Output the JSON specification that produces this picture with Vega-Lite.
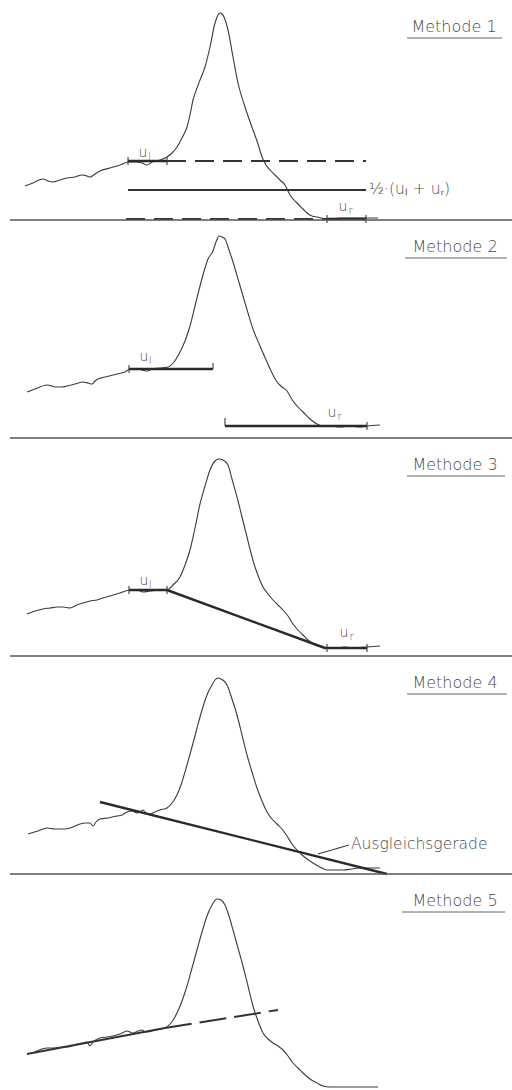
{
  "$schema": "https://vega.github.io/schema/vega-lite/v6.json",
  "padding": 0,
  "spacing": 0,
  "bounds": "flush",
  "background": "white",
  "data": {"values": [
    {"panel":1,"kind":"curve","x":25,"y":34},{"panel":1,"kind":"curve","x":33,"y":37},{"panel":1,"kind":"curve","x":43,"y":41},{"panel":1,"kind":"curve","x":48,"y":39},{"panel":1,"kind":"curve","x":53,"y":38},{"panel":1,"kind":"curve","x":60,"y":40},{"panel":1,"kind":"curve","x":67,"y":42},{"panel":1,"kind":"curve","x":75,"y":43},{"panel":1,"kind":"curve","x":82,"y":45},{"panel":1,"kind":"curve","x":87,"y":44},{"panel":1,"kind":"curve","x":90,"y":43},{"panel":1,"kind":"curve","x":95,"y":46},{"panel":1,"kind":"curve","x":100,"y":49},{"panel":1,"kind":"curve","x":110,"y":52},{"panel":1,"kind":"curve","x":120,"y":55},{"panel":1,"kind":"curve","x":128,"y":58},{"panel":1,"kind":"curve","x":135,"y":58},{"panel":1,"kind":"curve","x":142,"y":57},{"panel":1,"kind":"curve","x":147,"y":55},{"panel":1,"kind":"curve","x":152,"y":58},{"panel":1,"kind":"curve","x":160,"y":60},{"panel":1,"kind":"curve","x":167,"y":63},{"panel":1,"kind":"curve","x":172,"y":67},{"panel":1,"kind":"curve","x":177,"y":73},{"panel":1,"kind":"curve","x":182,"y":82},{"panel":1,"kind":"curve","x":187,"y":93},{"panel":1,"kind":"curve","x":190,"y":105},{"panel":1,"kind":"curve","x":193,"y":120},{"panel":1,"kind":"curve","x":197,"y":132},{"panel":1,"kind":"curve","x":200,"y":140},{"panel":1,"kind":"curve","x":205,"y":153},{"panel":1,"kind":"curve","x":210,"y":173},{"panel":1,"kind":"curve","x":215,"y":197},{"panel":1,"kind":"curve","x":218,"y":205},{"panel":1,"kind":"curve","x":220,"y":207},{"panel":1,"kind":"curve","x":222,"y":206},{"panel":1,"kind":"curve","x":224,"y":203},{"panel":1,"kind":"curve","x":228,"y":190},{"panel":1,"kind":"curve","x":233,"y":163},{"panel":1,"kind":"curve","x":238,"y":137},{"panel":1,"kind":"curve","x":245,"y":113},{"panel":1,"kind":"curve","x":253,"y":90},{"panel":1,"kind":"curve","x":258,"y":76},{"panel":1,"kind":"curve","x":262,"y":63},{"panel":1,"kind":"curve","x":266,"y":55},{"panel":1,"kind":"curve","x":270,"y":50},{"panel":1,"kind":"curve","x":275,"y":45},{"panel":1,"kind":"curve","x":280,"y":40},{"panel":1,"kind":"curve","x":285,"y":35},{"panel":1,"kind":"curve","x":290,"y":25},{"panel":1,"kind":"curve","x":297,"y":17},{"panel":1,"kind":"curve","x":303,"y":11},{"panel":1,"kind":"curve","x":307,"y":7},{"panel":1,"kind":"curve","x":312,"y":4},{"panel":1,"kind":"curve","x":317,"y":3},{"panel":1,"kind":"curve","x":327,"y":1},{"panel":1,"kind":"curve","x":340,"y":2},{"panel":1,"kind":"curve","x":355,"y":2},{"panel":1,"kind":"curve","x":366,"y":2},{"panel":1,"kind":"curve","x":378,"y":2},

    {"panel":1,"kind":"thick","x":128,"y":59,"x2":167,"y2":59},
    {"panel":1,"kind":"thin","x":128,"y":55,"x2":128,"y2":63},
    {"panel":1,"kind":"thin","x":167,"y":55,"x2":167,"y2":63},
    {"panel":1,"kind":"dash","x":167,"y":59,"x2":366,"y2":59},
    {"panel":1,"kind":"mid","x":128,"y":30,"x2":366,"y2":30},
    {"panel":1,"kind":"dash","x":126,"y":1,"x2":327,"y2":1},
    {"panel":1,"kind":"thick","x":327,"y":1,"x2":366,"y2":1},
    {"panel":1,"kind":"thin","x":327,"y":-3,"x2":327,"y2":5},
    {"panel":1,"kind":"thin","x":366,"y":-3,"x2":366,"y2":5},
    {"panel":1,"kind":"sep","x":10,"y":0,"x2":512,"y2":0},
    {"panel":1,"kind":"under","x":407,"y":182,"x2":502,"y2":182},
    {"panel":1,"kind":"title","x":454,"y":188,"text":"Methode 1"},
    {"panel":1,"kind":"u","x":143,"y":63,"text":"u"},
    {"panel":1,"kind":"sub","x":148,"y":60,"text":"l"},
    {"panel":1,"kind":"u","x":343,"y":9,"text":"u"},
    {"panel":1,"kind":"sub","x":348.5,"y":6,"text":"r"},
    {"panel":1,"kind":"labL","x":369,"y":26,"text":"½·(uₗ + uᵣ)"},

    {"panel":2,"kind":"curve","x":27,"y":46},{"panel":2,"kind":"curve","x":35,"y":49},{"panel":2,"kind":"curve","x":47,"y":53},{"panel":2,"kind":"curve","x":52,"y":52},{"panel":2,"kind":"curve","x":55,"y":51},{"panel":2,"kind":"curve","x":62,"y":51},{"panel":2,"kind":"curve","x":67,"y":52},{"panel":2,"kind":"curve","x":75,"y":54},{"panel":2,"kind":"curve","x":83,"y":56},{"panel":2,"kind":"curve","x":88,"y":55},{"panel":2,"kind":"curve","x":92,"y":54},{"panel":2,"kind":"curve","x":95,"y":57},{"panel":2,"kind":"curve","x":98,"y":59},{"panel":2,"kind":"curve","x":105,"y":61},{"panel":2,"kind":"curve","x":117,"y":64},{"panel":2,"kind":"curve","x":125,"y":66},{"panel":2,"kind":"curve","x":130,"y":69},{"panel":2,"kind":"curve","x":137,"y":69},{"panel":2,"kind":"curve","x":142,"y":68},{"panel":2,"kind":"curve","x":147,"y":67},{"panel":2,"kind":"curve","x":152,"y":69},{"panel":2,"kind":"curve","x":160,"y":70},{"panel":2,"kind":"curve","x":168,"y":71},{"panel":2,"kind":"curve","x":174,"y":76},{"panel":2,"kind":"curve","x":180,"y":86},{"panel":2,"kind":"curve","x":185,"y":97},{"panel":2,"kind":"curve","x":190,"y":112},{"panel":2,"kind":"curve","x":195,"y":132},{"panel":2,"kind":"curve","x":200,"y":152},{"panel":2,"kind":"curve","x":205,"y":170},{"panel":2,"kind":"curve","x":208,"y":179},{"panel":2,"kind":"curve","x":213,"y":187},{"panel":2,"kind":"curve","x":216,"y":196},{"panel":2,"kind":"curve","x":219,"y":202},{"panel":2,"kind":"curve","x":222,"y":201},{"panel":2,"kind":"curve","x":225,"y":199},{"panel":2,"kind":"curve","x":229,"y":188},{"panel":2,"kind":"curve","x":233,"y":176},{"panel":2,"kind":"curve","x":238,"y":159},{"panel":2,"kind":"curve","x":243,"y":142},{"panel":2,"kind":"curve","x":248,"y":125},{"panel":2,"kind":"curve","x":253,"y":109},{"panel":2,"kind":"curve","x":260,"y":92},{"panel":2,"kind":"curve","x":267,"y":76},{"panel":2,"kind":"curve","x":272,"y":65},{"panel":2,"kind":"curve","x":277,"y":56},{"panel":2,"kind":"curve","x":282,"y":51},{"panel":2,"kind":"curve","x":287,"y":47},{"panel":2,"kind":"curve","x":290,"y":42},{"panel":2,"kind":"curve","x":293,"y":37},{"panel":2,"kind":"curve","x":298,"y":31},{"panel":2,"kind":"curve","x":303,"y":26},{"panel":2,"kind":"curve","x":310,"y":19},{"panel":2,"kind":"curve","x":317,"y":14},{"panel":2,"kind":"curve","x":323,"y":12},{"panel":2,"kind":"curve","x":330,"y":12},{"panel":2,"kind":"curve","x":340,"y":11},{"panel":2,"kind":"curve","x":350,"y":12},{"panel":2,"kind":"curve","x":360,"y":11},{"panel":2,"kind":"curve","x":367,"y":12},{"panel":2,"kind":"curve","x":380,"y":13},

    {"panel":2,"kind":"thick","x":129,"y":69,"x2":213,"y2":69},
    {"panel":2,"kind":"thin","x":129,"y":65,"x2":129,"y2":73},
    {"panel":2,"kind":"thin","x":213,"y":69,"x2":213,"y2":75},
    {"panel":2,"kind":"thick","x":225,"y":12,"x2":367,"y2":12},
    {"panel":2,"kind":"thin","x":225,"y":12,"x2":225,"y2":20},
    {"panel":2,"kind":"thin","x":367,"y":8,"x2":367,"y2":16},
    {"panel":2,"kind":"sep","x":10,"y":0,"x2":512,"y2":0},
    {"panel":2,"kind":"under","x":405,"y":180,"x2":507,"y2":180},
    {"panel":2,"kind":"title","x":455,"y":186,"text":"Methode 2"},
    {"panel":2,"kind":"u","x":144,"y":77,"text":"u"},
    {"panel":2,"kind":"sub","x":149,"y":74,"text":"l"},
    {"panel":2,"kind":"u","x":332,"y":21,"text":"u"},
    {"panel":2,"kind":"sub","x":337.5,"y":18,"text":"r"},

    {"panel":3,"kind":"curve","x":27,"y":42},{"panel":3,"kind":"curve","x":35,"y":45},{"panel":3,"kind":"curve","x":43,"y":47},{"panel":3,"kind":"curve","x":50,"y":48},{"panel":3,"kind":"curve","x":57,"y":49},{"panel":3,"kind":"curve","x":63,"y":49},{"panel":3,"kind":"curve","x":70,"y":48},{"panel":3,"kind":"curve","x":77,"y":51},{"panel":3,"kind":"curve","x":83,"y":53},{"panel":3,"kind":"curve","x":90,"y":55},{"panel":3,"kind":"curve","x":97,"y":56},{"panel":3,"kind":"curve","x":103,"y":58},{"panel":3,"kind":"curve","x":110,"y":60},{"panel":3,"kind":"curve","x":120,"y":63},{"panel":3,"kind":"curve","x":130,"y":66},{"panel":3,"kind":"curve","x":137,"y":66},{"panel":3,"kind":"curve","x":143,"y":64},{"panel":3,"kind":"curve","x":150,"y":65},{"panel":3,"kind":"curve","x":157,"y":66},{"panel":3,"kind":"curve","x":167,"y":66},{"panel":3,"kind":"curve","x":173,"y":71},{"panel":3,"kind":"curve","x":180,"y":79},{"panel":3,"kind":"curve","x":185,"y":91},{"panel":3,"kind":"curve","x":190,"y":106},{"panel":3,"kind":"curve","x":195,"y":128},{"panel":3,"kind":"curve","x":200,"y":152},{"panel":3,"kind":"curve","x":205,"y":170},{"panel":3,"kind":"curve","x":210,"y":186},{"panel":3,"kind":"curve","x":215,"y":195},{"panel":3,"kind":"curve","x":219,"y":197},{"panel":3,"kind":"curve","x":223,"y":196},{"panel":3,"kind":"curve","x":228,"y":191},{"panel":3,"kind":"curve","x":232,"y":177},{"panel":3,"kind":"curve","x":237,"y":159},{"panel":3,"kind":"curve","x":242,"y":139},{"panel":3,"kind":"curve","x":247,"y":119},{"panel":3,"kind":"curve","x":251,"y":103},{"panel":3,"kind":"curve","x":255,"y":89},{"panel":3,"kind":"curve","x":259,"y":78},{"panel":3,"kind":"curve","x":263,"y":69},{"panel":3,"kind":"curve","x":268,"y":62},{"panel":3,"kind":"curve","x":273,"y":56},{"panel":3,"kind":"curve","x":278,"y":51},{"panel":3,"kind":"curve","x":283,"y":46},{"panel":3,"kind":"curve","x":288,"y":40},{"panel":3,"kind":"curve","x":293,"y":32},{"panel":3,"kind":"curve","x":298,"y":26},{"panel":3,"kind":"curve","x":303,"y":21},{"panel":3,"kind":"curve","x":308,"y":16},{"panel":3,"kind":"curve","x":313,"y":12},{"panel":3,"kind":"curve","x":318,"y":10},{"panel":3,"kind":"curve","x":325,"y":8},{"panel":3,"kind":"curve","x":335,"y":8},{"panel":3,"kind":"curve","x":345,"y":9},{"panel":3,"kind":"curve","x":355,"y":8},{"panel":3,"kind":"curve","x":367,"y":9},{"panel":3,"kind":"curve","x":380,"y":10},

    {"panel":3,"kind":"thick","x":129,"y":66,"x2":167,"y2":66},
    {"panel":3,"kind":"thin","x":129,"y":62,"x2":129,"y2":70},
    {"panel":3,"kind":"thin","x":167,"y":62,"x2":167,"y2":70},
    {"panel":3,"kind":"thick","x":167,"y":66,"x2":325,"y2":8},
    {"panel":3,"kind":"thick","x":325,"y":8,"x2":367,"y2":8},
    {"panel":3,"kind":"thin","x":327,"y":4,"x2":327,"y2":12},
    {"panel":3,"kind":"thin","x":367,"y":4,"x2":367,"y2":12},
    {"panel":3,"kind":"sep","x":10,"y":0,"x2":512,"y2":0},
    {"panel":3,"kind":"under","x":407,"y":180,"x2":505,"y2":180},
    {"panel":3,"kind":"title","x":455,"y":186,"text":"Methode 3"},
    {"panel":3,"kind":"u","x":144,"y":71,"text":"u"},
    {"panel":3,"kind":"sub","x":149,"y":68,"text":"l"},
    {"panel":3,"kind":"u","x":344,"y":19,"text":"u"},
    {"panel":3,"kind":"sub","x":349.5,"y":16,"text":"r"},

    {"panel":4,"kind":"curve","x":28,"y":40},{"panel":4,"kind":"curve","x":38,"y":43},{"panel":4,"kind":"curve","x":47,"y":46},{"panel":4,"kind":"curve","x":55,"y":45},{"panel":4,"kind":"curve","x":60,"y":45},{"panel":4,"kind":"curve","x":65,"y":45},{"panel":4,"kind":"curve","x":70,"y":46},{"panel":4,"kind":"curve","x":75,"y":48},{"panel":4,"kind":"curve","x":80,"y":50},{"panel":4,"kind":"curve","x":85,"y":51},{"panel":4,"kind":"curve","x":90,"y":51},{"panel":4,"kind":"curve","x":93,"y":48},{"panel":4,"kind":"curve","x":96,"y":52},{"panel":4,"kind":"curve","x":100,"y":55},{"panel":4,"kind":"curve","x":108,"y":56},{"panel":4,"kind":"curve","x":117,"y":58},{"panel":4,"kind":"curve","x":122,"y":59},{"panel":4,"kind":"curve","x":127,"y":62},{"panel":4,"kind":"curve","x":132,"y":63},{"panel":4,"kind":"curve","x":137,"y":61},{"panel":4,"kind":"curve","x":140,"y":62},{"panel":4,"kind":"curve","x":143,"y":64},{"panel":4,"kind":"curve","x":146,"y":61},{"panel":4,"kind":"curve","x":150,"y":60},{"panel":4,"kind":"curve","x":155,"y":62},{"panel":4,"kind":"curve","x":160,"y":64},{"panel":4,"kind":"curve","x":167,"y":66},{"panel":4,"kind":"curve","x":172,"y":71},{"panel":4,"kind":"curve","x":177,"y":79},{"panel":4,"kind":"curve","x":182,"y":92},{"panel":4,"kind":"curve","x":187,"y":109},{"panel":4,"kind":"curve","x":192,"y":127},{"panel":4,"kind":"curve","x":197,"y":146},{"panel":4,"kind":"curve","x":202,"y":164},{"panel":4,"kind":"curve","x":207,"y":179},{"panel":4,"kind":"curve","x":212,"y":189},{"panel":4,"kind":"curve","x":215,"y":194},{"panel":4,"kind":"curve","x":218,"y":196},{"panel":4,"kind":"curve","x":221,"y":195},{"panel":4,"kind":"curve","x":224,"y":193},{"panel":4,"kind":"curve","x":227,"y":189},{"panel":4,"kind":"curve","x":232,"y":175},{"panel":4,"kind":"curve","x":237,"y":159},{"panel":4,"kind":"curve","x":242,"y":139},{"panel":4,"kind":"curve","x":247,"y":119},{"panel":4,"kind":"curve","x":252,"y":102},{"panel":4,"kind":"curve","x":257,"y":86},{"panel":4,"kind":"curve","x":262,"y":73},{"panel":4,"kind":"curve","x":267,"y":62},{"panel":4,"kind":"curve","x":272,"y":55},{"panel":4,"kind":"curve","x":277,"y":50},{"panel":4,"kind":"curve","x":282,"y":45},{"panel":4,"kind":"curve","x":287,"y":38},{"panel":4,"kind":"curve","x":292,"y":30},{"panel":4,"kind":"curve","x":297,"y":24},{"panel":4,"kind":"curve","x":302,"y":19},{"panel":4,"kind":"curve","x":307,"y":15},{"panel":4,"kind":"curve","x":313,"y":11},{"panel":4,"kind":"curve","x":320,"y":7},{"panel":4,"kind":"curve","x":327,"y":4},{"panel":4,"kind":"curve","x":335,"y":4},{"panel":4,"kind":"curve","x":343,"y":4},{"panel":4,"kind":"curve","x":352,"y":5},{"panel":4,"kind":"curve","x":360,"y":6},{"panel":4,"kind":"curve","x":370,"y":6},{"panel":4,"kind":"curve","x":380,"y":6},

    {"panel":4,"kind":"thick","x":100,"y":72,"x2":387,"y2":0},
    {"panel":4,"kind":"thin","x":318,"y":20,"x2":349,"y2":29},
    {"panel":4,"kind":"sep","x":10,"y":0,"x2":512,"y2":0},
    {"panel":4,"kind":"under","x":407,"y":180,"x2":507,"y2":180},
    {"panel":4,"kind":"title","x":455,"y":186,"text":"Methode 4"},
    {"panel":4,"kind":"labL","x":351,"y":25,"text":"Ausgleichsgerade"},

    {"panel":5,"kind":"curve","x":27,"y":38},{"panel":5,"kind":"curve","x":35,"y":40},{"panel":5,"kind":"curve","x":42,"y":43},{"panel":5,"kind":"curve","x":47,"y":44},{"panel":5,"kind":"curve","x":55,"y":44},{"panel":5,"kind":"curve","x":62,"y":45},{"panel":5,"kind":"curve","x":67,"y":45},{"panel":5,"kind":"curve","x":75,"y":47},{"panel":5,"kind":"curve","x":82,"y":49},{"panel":5,"kind":"curve","x":87,"y":50},{"panel":5,"kind":"curve","x":90,"y":46},{"panel":5,"kind":"curve","x":93,"y":50},{"panel":5,"kind":"curve","x":100,"y":54},{"panel":5,"kind":"curve","x":107,"y":55},{"panel":5,"kind":"curve","x":113,"y":56},{"panel":5,"kind":"curve","x":120,"y":58},{"panel":5,"kind":"curve","x":127,"y":61},{"panel":5,"kind":"curve","x":130,"y":60},{"panel":5,"kind":"curve","x":133,"y":59},{"panel":5,"kind":"curve","x":138,"y":61},{"panel":5,"kind":"curve","x":142,"y":62},{"panel":5,"kind":"curve","x":145,"y":60},{"panel":5,"kind":"curve","x":147,"y":60},{"panel":5,"kind":"curve","x":155,"y":62},{"panel":5,"kind":"curve","x":165,"y":64},{"panel":5,"kind":"curve","x":171,"y":69},{"panel":5,"kind":"curve","x":177,"y":79},{"panel":5,"kind":"curve","x":182,"y":91},{"panel":5,"kind":"curve","x":187,"y":106},{"panel":5,"kind":"curve","x":192,"y":124},{"panel":5,"kind":"curve","x":197,"y":142},{"panel":5,"kind":"curve","x":202,"y":160},{"panel":5,"kind":"curve","x":207,"y":176},{"panel":5,"kind":"curve","x":212,"y":187},{"panel":5,"kind":"curve","x":217,"y":193},{"panel":5,"kind":"curve","x":221,"y":192},{"panel":5,"kind":"curve","x":225,"y":187},{"panel":5,"kind":"curve","x":229,"y":176},{"panel":5,"kind":"curve","x":233,"y":162},{"panel":5,"kind":"curve","x":238,"y":144},{"panel":5,"kind":"curve","x":243,"y":126},{"panel":5,"kind":"curve","x":248,"y":106},{"panel":5,"kind":"curve","x":253,"y":86},{"panel":5,"kind":"curve","x":258,"y":71},{"panel":5,"kind":"curve","x":263,"y":59},{"panel":5,"kind":"curve","x":268,"y":53},{"panel":5,"kind":"curve","x":273,"y":49},{"panel":5,"kind":"curve","x":278,"y":46},{"panel":5,"kind":"curve","x":283,"y":42},{"panel":5,"kind":"curve","x":288,"y":36},{"panel":5,"kind":"curve","x":293,"y":29},{"panel":5,"kind":"curve","x":298,"y":24},{"panel":5,"kind":"curve","x":303,"y":19},{"panel":5,"kind":"curve","x":310,"y":13},{"panel":5,"kind":"curve","x":317,"y":9},{"panel":5,"kind":"curve","x":323,"y":6},{"panel":5,"kind":"curve","x":330,"y":5},{"panel":5,"kind":"curve","x":340,"y":5},{"panel":5,"kind":"curve","x":350,"y":5},{"panel":5,"kind":"curve","x":365,"y":5},{"panel":5,"kind":"curve","x":378,"y":5},

    {"panel":5,"kind":"mid","x":27,"y":38,"x2":165,"y2":64},
    {"panel":5,"kind":"dash5","x":165,"y":64,"x2":278,"y2":82},
    {"panel":5,"kind":"under","x":402,"y":180,"x2":505,"y2":180},
    {"panel":5,"kind":"title","x":455,"y":186,"text":"Methode 5"}
  ]},
  "facet": {"row": {"field": "panel", "type": "ordinal", "header": null}},
  "spec": {
    "width": 512,
    "height": 218,
    "layer": [
      {
        "transform": [{"filter": {"field": "kind", "equal": "curve"}}],
        "mark": {"type": "line", "interpolate": "monotone", "stroke": "#3a3a3a", "strokeWidth": 1.1},
        "encoding": {
          "x": {"field": "x", "type": "quantitative", "scale": {"domain": [0, 512], "nice": false, "zero": false}, "axis": null},
          "y": {"field": "y", "type": "quantitative", "scale": {"domain": [2, 220], "nice": false, "zero": false}, "axis": null}
        }
      },
      {
        "transform": [{"filter": {"field": "kind", "equal": "thick"}}],
        "mark": {"type": "rule", "stroke": "#2a2a2a", "strokeWidth": 2.4},
        "encoding": {
          "x": {"field": "x", "type": "quantitative", "scale": {"domain": [0, 512], "nice": false, "zero": false}, "axis": null},
          "y": {"field": "y", "type": "quantitative", "scale": {"domain": [2, 220], "nice": false, "zero": false}, "axis": null},
          "x2": {"field": "x2"}, "y2": {"field": "y2"}
        }
      },
      {
        "transform": [{"filter": {"field": "kind", "equal": "mid"}}],
        "mark": {"type": "rule", "stroke": "#333333", "strokeWidth": 1.8},
        "encoding": {
          "x": {"field": "x", "type": "quantitative", "scale": {"domain": [0, 512], "nice": false, "zero": false}, "axis": null},
          "y": {"field": "y", "type": "quantitative", "scale": {"domain": [2, 220], "nice": false, "zero": false}, "axis": null},
          "x2": {"field": "x2"}, "y2": {"field": "y2"}
        }
      },
      {
        "transform": [{"filter": {"field": "kind", "equal": "thin"}}],
        "mark": {"type": "rule", "stroke": "#3a3a3a", "strokeWidth": 1.1},
        "encoding": {
          "x": {"field": "x", "type": "quantitative", "scale": {"domain": [0, 512], "nice": false, "zero": false}, "axis": null},
          "y": {"field": "y", "type": "quantitative", "scale": {"domain": [2, 220], "nice": false, "zero": false}, "axis": null},
          "x2": {"field": "x2"}, "y2": {"field": "y2"}
        }
      },
      {
        "transform": [{"filter": {"field": "kind", "equal": "dash"}}],
        "mark": {"type": "rule", "stroke": "#333333", "strokeWidth": 1.8, "strokeDash": [19, 9]},
        "encoding": {
          "x": {"field": "x", "type": "quantitative", "scale": {"domain": [0, 512], "nice": false, "zero": false}, "axis": null},
          "y": {"field": "y", "type": "quantitative", "scale": {"domain": [2, 220], "nice": false, "zero": false}, "axis": null},
          "x2": {"field": "x2"}, "y2": {"field": "y2"}
        }
      },
      {
        "transform": [{"filter": {"field": "kind", "equal": "dash5"}}],
        "mark": {"type": "rule", "stroke": "#333333", "strokeWidth": 1.8, "strokeDash": [27, 8]},
        "encoding": {
          "x": {"field": "x", "type": "quantitative", "scale": {"domain": [0, 512], "nice": false, "zero": false}, "axis": null},
          "y": {"field": "y", "type": "quantitative", "scale": {"domain": [2, 220], "nice": false, "zero": false}, "axis": null},
          "x2": {"field": "x2"}, "y2": {"field": "y2"}
        }
      },
      {
        "transform": [{"filter": {"field": "kind", "equal": "sep"}}],
        "mark": {"type": "rule", "stroke": "#555555", "strokeWidth": 1.3},
        "encoding": {
          "x": {"field": "x", "type": "quantitative", "scale": {"domain": [0, 512], "nice": false, "zero": false}, "axis": null},
          "y": {"field": "y", "type": "quantitative", "scale": {"domain": [2, 220], "nice": false, "zero": false}, "axis": null},
          "x2": {"field": "x2"}, "y2": {"field": "y2"}
        }
      },
      {
        "transform": [{"filter": {"field": "kind", "equal": "under"}}],
        "mark": {"type": "rule", "stroke": "#666666", "strokeWidth": 1},
        "encoding": {
          "x": {"field": "x", "type": "quantitative", "scale": {"domain": [0, 512], "nice": false, "zero": false}, "axis": null},
          "y": {"field": "y", "type": "quantitative", "scale": {"domain": [2, 220], "nice": false, "zero": false}, "axis": null},
          "x2": {"field": "x2"}, "y2": {"field": "y2"}
        }
      },
      {
        "transform": [{"filter": {"field": "kind", "equal": "title"}}],
        "mark": {"type": "text", "font": "DejaVu Sans", "fontSize": 16, "fontWeight": 300, "align": "center", "baseline": "alphabetic", "fill": "#4a4a4a"},
        "encoding": {
          "x": {"field": "x", "type": "quantitative", "scale": {"domain": [0, 512], "nice": false, "zero": false}, "axis": null},
          "y": {"field": "y", "type": "quantitative", "scale": {"domain": [2, 220], "nice": false, "zero": false}, "axis": null},
          "text": {"field": "text"}
        }
      },
      {
        "transform": [{"filter": {"field": "kind", "equal": "u"}}],
        "mark": {"type": "text", "font": "DejaVu Sans", "fontSize": 14, "fontWeight": 300, "align": "center", "baseline": "alphabetic", "fill": "#4a4a4a"},
        "encoding": {
          "x": {"field": "x", "type": "quantitative", "scale": {"domain": [0, 512], "nice": false, "zero": false}, "axis": null},
          "y": {"field": "y", "type": "quantitative", "scale": {"domain": [2, 220], "nice": false, "zero": false}, "axis": null},
          "text": {"field": "text"}
        }
      },
      {
        "transform": [{"filter": {"field": "kind", "equal": "sub"}}],
        "mark": {"type": "text", "font": "DejaVu Sans", "fontSize": 10, "fontWeight": 300, "align": "left", "baseline": "alphabetic", "fill": "#4a4a4a"},
        "encoding": {
          "x": {"field": "x", "type": "quantitative", "scale": {"domain": [0, 512], "nice": false, "zero": false}, "axis": null},
          "y": {"field": "y", "type": "quantitative", "scale": {"domain": [2, 220], "nice": false, "zero": false}, "axis": null},
          "text": {"field": "text"}
        }
      },
      {
        "transform": [{"filter": {"field": "kind", "equal": "labL"}}],
        "mark": {"type": "text", "font": "DejaVu Sans", "fontSize": 15.5, "fontWeight": 300, "align": "left", "baseline": "alphabetic", "fill": "#4a4a4a"},
        "encoding": {
          "x": {"field": "x", "type": "quantitative", "scale": {"domain": [0, 512], "nice": false, "zero": false}, "axis": null},
          "y": {"field": "y", "type": "quantitative", "scale": {"domain": [2, 220], "nice": false, "zero": false}, "axis": null},
          "text": {"field": "text"}
        }
      }
    ]
  },
  "config": {"view": {"stroke": null}}
}
